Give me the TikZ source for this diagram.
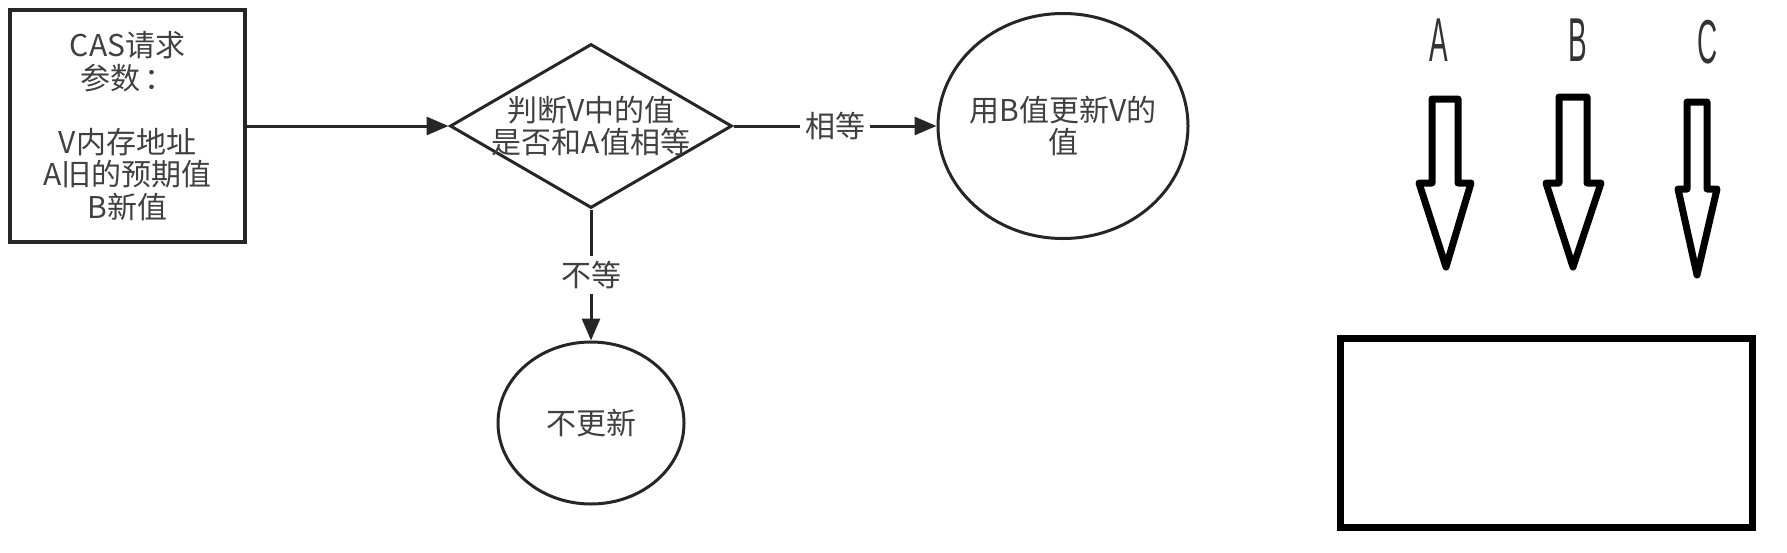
\documentclass[tikz,border=0pt]{standalone}
\usepackage{fontspec}
\setmainfont{Noto Sans CJK SC}
\newfontfamily\handfont{Liberation Sans}
\usetikzlibrary{shapes.geometric,arrows.meta}

\tikzset{
  txt/.style={text=black!75, font=\fontsize{30}{32.4}\selectfont, align=center},
  parambox/.style={draw=black!85, line width=4pt, minimum width=235pt, minimum height=232pt, inner sep=0pt},
  decision/.style={diamond, draw=black!85, line width=3pt, aspect=1.72, minimum width=282pt, minimum height=164pt, inner sep=0pt},
  bubble/.style={ellipse, draw=black!85, line width=3pt, inner sep=0pt},
  flow/.style={draw=black!85, line width=3pt, -{Triangle[length=22pt,width=18pt]}},
  flowlabel/.style={txt, fill=white, inner sep=5pt},
  hand/.style={font=\handfont\fontsize{62}{62}\selectfont, text=black!80, xscale=0.45, inner sep=0pt},
  blockarrow/.style={draw=black, line width=7pt, line join=round},
}

\begin{document}
\begin{tikzpicture}[x=1pt,y=-1pt]
  \useasboundingbox (0,0) rectangle (1787,552);

  % flow chart
  \node[parambox, label={[txt]center:{CAS请求\\参数\,：\\[32pt]V内存地址\\A旧的预期值\\B新值}}] (params) at (127.5,126) {};
  \node[decision, label={[txt]center:{判断V中的值\\是否和A值相等}}] (check) at (591,126) {};
  \node[bubble, minimum width=250pt, minimum height=225pt, label={[txt]center:{用B值更新V的\\值}}] (update) at (1063,126) {};
  \node[bubble, minimum width=186pt, minimum height=162pt, label={[txt]center:{不更新}}] (keep) at (591,423) {};

  \draw[flow] (params.east) -- (check.west);
  \draw[flow] (check.east) -- node[flowlabel] (eq) {相等} (update.west);
  \draw[flow] (check.south) -- node[flowlabel] (neq) {不等} (keep.north);

  % hand drawn part
  \node[hand] (la) at (1439,40) {A};
  \node[hand] (lb) at (1578,40) {B};
  \node[hand] (lc) at (1708,42) {C};

  \draw[blockarrow] (1432,99) -- (1458,99) -- (1458,183) -- (1471,183) -- (1446,267) -- (1419,183) -- (1432,183) -- cycle;
  \draw[blockarrow] (1559,97) -- (1587,97) -- (1587,183) -- (1601,183) -- (1573,267) -- (1546,183) -- (1559,183) -- cycle;
  \draw[blockarrow] (1687,102) -- (1707,102) -- (1707,189) -- (1717,189) -- (1697,275) -- (1678,189) -- (1687,189) -- cycle;

  \node[draw=black, line width=7pt, minimum width=412pt, minimum height=189pt, inner sep=0pt] (slot) at (1546,432.5) {};
\end{tikzpicture}
\end{document}
